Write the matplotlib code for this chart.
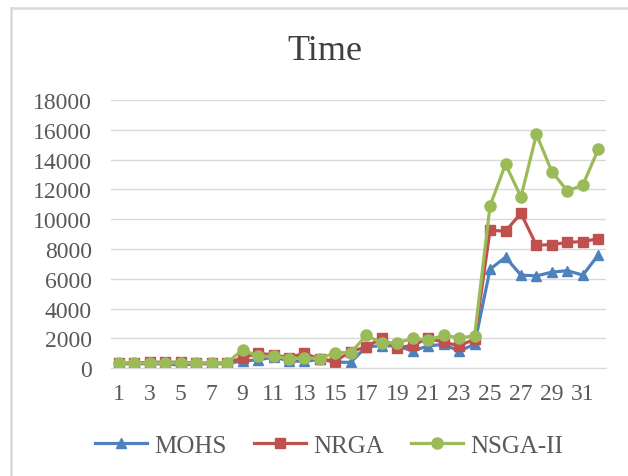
import matplotlib.pyplot as plt
from matplotlib.lines import Line2D

# Data
runs = list(range(1, 33))
mohs = [300, 300, 300, 300, 200, 300, 300, 300, 500, 550, 750, 500, 450, 600, 400, 400,
        1450, 1500, 1500, 1150, 1500, 1600, 1150, 1600,
        6650, 7450, 6250, 6200, 6450, 6550, 6250, 7600]
nrga = [350, 350, 400, 400, 400, 350, 350, 350, 700, 1000, 900, 700, 1000, 600, 500, 1100,
        1450, 2000, 1350, 1550, 2000, 1750, 1500, 1950,
        9260, 9200, 10400, 8250, 8300, 8450, 8500, 8700]
nsga2 = [350, 350, 350, 350, 350, 350, 350, 350, 1250, 800, 800, 650, 700, 650, 1050, 1050,
         2200, 1700, 1700, 2000, 1900, 2200, 2050, 2150,
         10900, 13700, 11500, 15700, 13200, 11900, 12300, 14700]

font = 'Liberation Serif'
grey_txt = '#595959'

fig = plt.figure(figsize=(6.28, 4.77), dpi=100)
# light frame round the chart (only left and top edges visible)
fig.lines.append(Line2D([11 / 628, 11 / 628], [0, 1 - 9 / 477], transform=fig.transFigure,
                        color='#d9d9d9', linewidth=1.8))
fig.lines.append(Line2D([11 / 628, 1], [1 - 9 / 477, 1 - 9 / 477], transform=fig.transFigure,
                        color='#d9d9d9', linewidth=1.8))

ax = fig.add_axes([0.177, 0.226, 0.788, 0.562])

ax.plot(runs, mohs, color='#4F81BD', marker='^', markersize=7.5, linewidth=2.3, label='MOHS')
ax.plot(runs, nrga, color='#C0504D', marker='s', markersize=7, linewidth=2.3, label='NRGA')
ax.plot(runs, nsga2, color='#9BBB59', marker='o', markersize=8, linewidth=2.3, label='NSGA-II')

ax.set_xlim(0.5, 32.5)
ax.set_ylim(0, 18000)
ax.set_yticks(range(0, 18001, 2000))
ax.set_xticks(range(1, 32, 2))
ax.grid(axis='y', color='#d9d9d9', linewidth=1)
ax.set_axisbelow(True)
for s in ['top', 'right', 'left']:
    ax.spines[s].set_visible(False)
ax.spines['bottom'].set_color('#d9d9d9')
ax.tick_params(length=0, labelcolor=grey_txt, labelsize=17)
ax.tick_params(axis='x', pad=11)
ax.tick_params(axis='y', pad=14)
for lbl in ax.get_xticklabels() + ax.get_yticklabels():
    lbl.set_fontfamily(font)

fig.text(0.517, 1 - 60 / 477, 'Time', ha='center', va='baseline', fontsize=26,
         family=font, color='#404040')

leg = fig.legend(loc='center', bbox_to_anchor=(0.524, 1 - 446.5 / 477), ncol=3, frameon=False,
                 prop={'family': font, 'size': 18}, handlelength=2.1, handletextpad=0.28,
                 columnspacing=1.08, borderpad=0)
for t in leg.get_texts():
    t.set_color(grey_txt)

fig.savefig('out.png', dpi=100)
